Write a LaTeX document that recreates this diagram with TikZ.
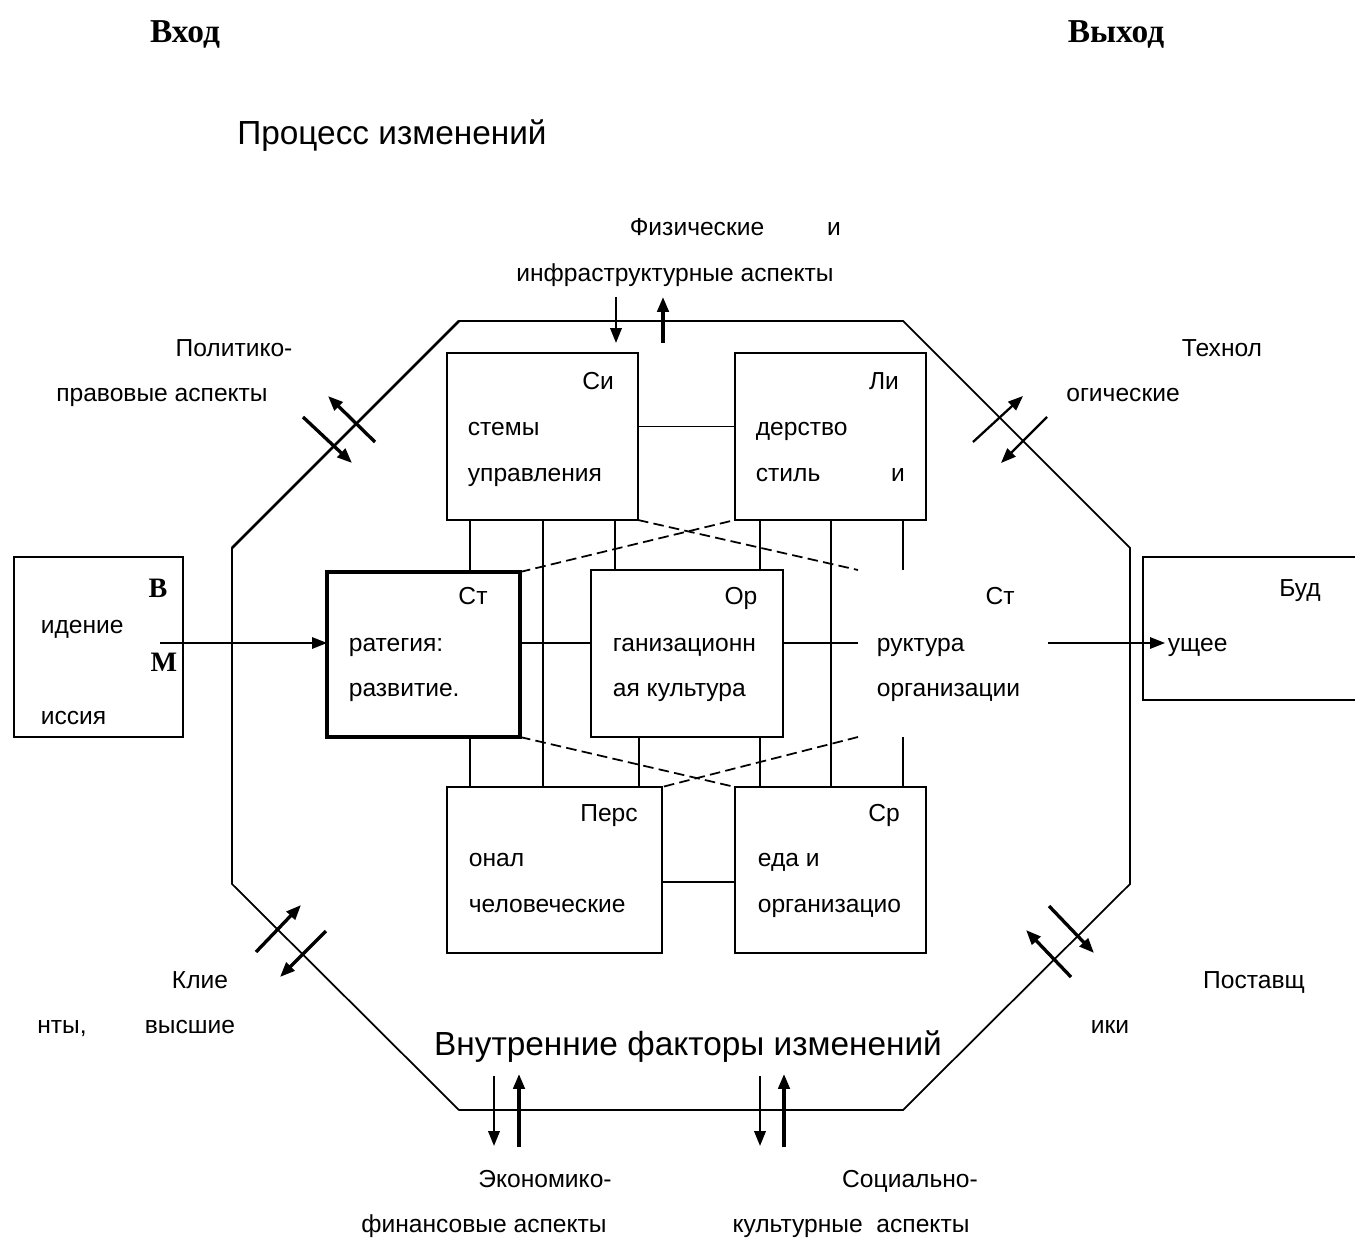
\documentclass[tikz,border=0pt]{standalone}
\usepackage{fontspec}
\setmainfont{Liberation Sans}
\newfontfamily\serifbold{Liberation Serif}
\usetikzlibrary{arrows.meta,calc}
\begin{document}
\begin{tikzpicture}[x=0.02cm,y=-0.02cm,line width=1pt,
  box/.style={draw,rectangle,inner sep=0pt,outer sep=0pt},
  ghost/.style={rectangle,inner sep=0pt,outer sep=0pt},
  lab/.style={inner sep=0pt,text height=10pt,text depth=3pt,font=\fontsize{14}{16}\selectfont},
  big/.style={inner sep=0pt,text height=14pt,text depth=4pt,font=\fontsize{19}{22}\selectfont},
  head/.style={inner sep=0pt,font=\serifbold\bfseries\fontsize{19}{22}\selectfont},
  letter/.style={inner sep=0pt,font=\serifbold\bfseries\fontsize{16}{18}\selectfont},
  dsh/.style={dash pattern=on 6pt off 3pt},
  tip/.style={-{Triangle[length=8.5pt,width=6.5pt]}},
  thinar/.style={tip,line width=1.3pt},
  thickar/.style={tip,line width=1.9pt}]
\useasboundingbox (0,0) rectangle (1355,1243);

% ---------- boxes ----------
\node[box,minimum width=191*0.02cm,minimum height=167*0.02cm] (sis) at (542.5,436.5) {};
\node[box,minimum width=191*0.02cm,minimum height=167*0.02cm] (lid) at (830.5,436.5) {};
\node[box,line width=2.2pt,minimum width=193*0.02cm,minimum height=165*0.02cm] (str) at (423.5,654.5) {};
\node[box,minimum width=192*0.02cm,minimum height=167*0.02cm] (org) at (687,653.5) {};
\node[ghost,minimum width=190*0.02cm,minimum height=167*0.02cm] (struc) at (953,653.5) {};
\node[box,minimum width=215*0.02cm,minimum height=166*0.02cm] (pers) at (554.5,870) {};
\node[box,minimum width=191*0.02cm,minimum height=166*0.02cm] (sreda) at (830.5,870) {};
\node[box,minimum width=169*0.02cm,minimum height=180*0.02cm] (vid) at (98.5,647) {};
\node[box,minimum width=227*0.02cm,minimum height=143*0.02cm] (bud) at (1256.5,628.5) {};

% ---------- octagon ----------
\coordinate (o1) at (459,321);
\coordinate (o2) at (903,321);
\coordinate (o3) at (1130,548);
\coordinate (o4) at (1130,884);
\coordinate (o5) at (903,1110);
\coordinate (o6) at (459,1110);
\coordinate (o7) at (232,884);
\coordinate (o8) at (232,548);
\draw (o1) -- (o2) -- (o3) -- (o4) -- (o5) -- (o6) -- (o7) -- (o8) -- cycle;
\draw[line width=1.5pt] (o8) -- (o1);

% ---------- vertical connectors ----------
\draw ($(sis.south west)+(23,0)$) coordinate (v1) -- (v1 |- str.north);
\draw ($(sis.south west)+(96,0)$) coordinate (v2) -- (v2 |- pers.north);
\draw ($(sis.south west)+(168,0)$) coordinate (v3) -- (v3 |- org.north);
\draw ($(lid.south west)+(25,0)$) coordinate (v4) -- (v4 |- org.north);
\draw ($(lid.south west)+(96,0)$) coordinate (v5) -- (v5 |- sreda.north);
\draw ($(lid.south west)+(168,0)$) coordinate (v6) -- (v6 |- struc.north);
\draw ($(str.south west)+(143,0)$) coordinate (v7) -- (v7 |- pers.north);
\draw ($(org.south west)+(48,0)$) coordinate (v8) -- (v8 |- pers.north);
\draw ($(org.south west)+(169,0)$) coordinate (v9) -- (v9 |- sreda.north);
\draw ($(struc.south west)+(45,0)$) coordinate (v10) -- (v10 |- sreda.north);

% ---------- horizontal connectors ----------
\draw ($(sis.east)+(0,-10)$) coordinate (h1) -- (h1 -| lid.west);
\draw ($(str.east)+(0,-11.5)$) coordinate (h2) -- (h2 -| org.west);
\draw ($(org.east)+(0,-10.5)$) coordinate (h3) -- (h3 -| struc.west);
\draw ($(pers.east)+(0,12)$) coordinate (h4) -- (h4 -| sreda.west);
\draw[tip] ($(vid.east)+(-23,-4)$) coordinate (h5) -- (h5 -| str.west);
\draw[tip] ($(struc.east)+(0,-10.5)$) coordinate (h6) -- ($(h6 -| bud.west)+(22,0)$);

% ---------- dashed cross connectors ----------
\draw[dsh] (sis.south east) -- (struc.north west);
\draw[dsh] (str.north east) -- (lid.south west);
\draw[dsh] (str.south east) -- (sreda.north west);
\draw[dsh] (struc.south west) -- (pers.north east);

% ---------- arrows crossing the octagon ----------
% top
\draw[thinar] (616,297) coordinate (a1) -- (616,343) coordinate (a2);
\draw[thickar] (663,343) coordinate (a3) -- (663,297) coordinate (a4);
% top-left
\draw[thickar] (303,417) coordinate (b1) -- (352,463) coordinate (b2);
\draw[thickar] (375,442) coordinate (b3) -- (328,396) coordinate (b4);
% top-right
\draw[thinar] (973,442) coordinate (c1) -- (1023,396) coordinate (c2);
\draw[thinar] (1047,417) coordinate (c3) -- (1001,463) coordinate (c4);
% bottom-left
\draw[thickar] (256,952) coordinate (d1) -- (301,905) coordinate (d2);
\draw[thickar] (326,931) coordinate (d3) -- (280,977) coordinate (d4);
% bottom-right
\draw[thickar] (1049,906) coordinate (e1) -- (1094,953) coordinate (e2);
\draw[thickar] (1071,977) coordinate (e3) -- (1026,930) coordinate (e4);
% bottom
\draw[thinar] (494,1076) coordinate (f1) -- (494,1146) coordinate (f2);
\draw[thickar] (519,1147) coordinate (f3) -- (519,1074) coordinate (f4);
\draw[thinar] (760,1076) coordinate (g1) -- (760,1146) coordinate (g2);
\draw[thickar] (784,1147) coordinate (g3) -- (784,1074) coordinate (g4);

% ---------- titles ----------
\node[head] (tin) at (185,34) {Вход};
\node[head] (tout) at (1116,34) {Выход};
\node[big] (tproc) at (392,136) {Процесс изменений};
\node[big] (tvnutr) at (688,1047) {Внутренние факторы изменений};

% ---------- outer labels ----------
\node[lab] (l1) at (697,229) {Физические};
\node[lab] (l2) at (834,229) {и};
\node[lab] (l3) at (675,275) {инфраструктурные аспекты};
\node[lab] (l4) at (234,350) {Политико-};
\node[lab] (l5) at (162,395) {правовые аспекты};
\node[lab] (l6) at (1222,350) {Технол};
\node[lab] (l7) at (1123,395) {огические};
\node[lab] (l8) at (200,982) {Клие};
\node[lab] (l9) at (62,1027) {нты,};
\node[lab] (l10) at (190,1027) {высшие};
\node[lab] (l11) at (1254,982) {Поставщ};
\node[lab] (l12) at (1110,1027) {ики};
\node[lab] (l13) at (545,1181) {Экономико-};
\node[lab] (l14) at (484,1226) {финансовые аспекты};
\node[lab] (l15) at (910,1181) {Социально-};
\node[lab] (l16) at (851,1226) {культурные\ \ аспекты};

% ---------- box texts ----------
\node[lab] (s1) at (598,383) {Си};
\node[lab,anchor=west] (s2) at (467,429) {стемы};
\node[lab,anchor=west] (s3) at (467,475) {управления};
\node[lab] (d1t) at (884,383) {Ли};
\node[lab,anchor=west] (d2t) at (755,429) {дерство};
\node[lab,anchor=west] (d3t) at (755,475) {стиль};
\node[lab] (d4t) at (898,475) {и};
\node[lab] (r1) at (473,598) {Ст};
\node[lab,anchor=west] (r2) at (348,645) {ратегия:};
\node[lab,anchor=west] (r3) at (348,690) {развитие.};
\node[lab] (g1t) at (741,598) {Ор};
\node[lab,anchor=west] (g2t) at (612,645) {ганизационн};
\node[lab,anchor=west] (g3t) at (612,690) {ая культура};
\node[lab] (k1) at (1000,598) {Ст};
\node[lab,anchor=west] (k2) at (876,645) {руктура};
\node[lab,anchor=west] (k3) at (876,690) {организации};
\node[lab] (p1) at (609,815) {Перс};
\node[lab,anchor=west] (p2) at (468,860) {онал};
\node[lab,anchor=west] (p3) at (468,906) {человеческие};
\node[lab] (q1) at (884,815) {Ср};
\node[lab,anchor=west] (q2) at (757,860) {еда и};
\node[lab,anchor=west] (q3) at (757,906) {организацио};
\node[letter] (w1) at (158,588) {В};
\node[lab,anchor=west] (w2) at (40,627) {идение};
\node[letter] (w3) at (164,662) {М};
\node[lab,anchor=west] (w4) at (40,718) {иссия};
\node[lab] (u1) at (1300,590) {Буд};
\node[lab,anchor=west] (u2) at (1167,645) {ущее};
\end{tikzpicture}
\end{document}
